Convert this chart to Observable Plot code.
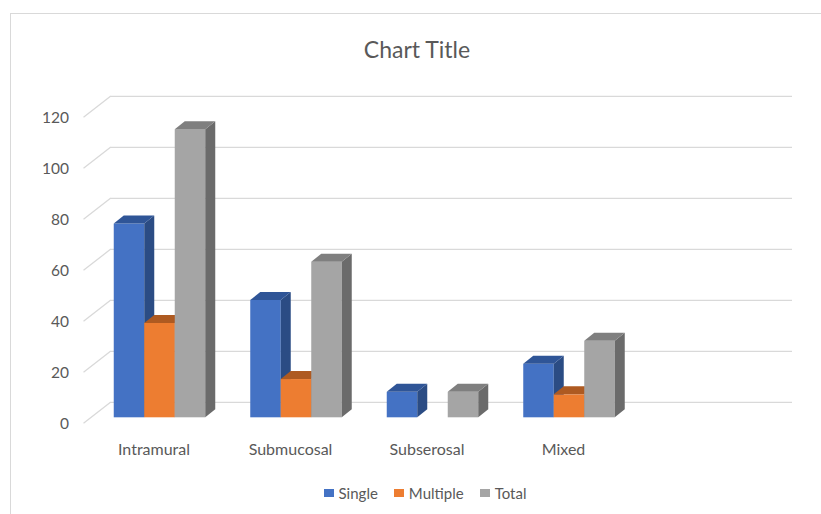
<!DOCTYPE html>
<html>
<head>
<meta charset="utf-8">
<script src="https://cdn.jsdelivr.net/npm/d3@7"></script>
<script src="https://cdn.jsdelivr.net/npm/@observablehq/plot@0.6"></script>
<style>
  html, body { margin: 0; padding: 0; background: #fff; overflow: hidden; }
  #wrap { position: relative; width: 821px; height: 514px; overflow: hidden; background: #fff; font-family: Lato, sans-serif; color: #595959; }
  #frame { position: absolute; left: 10px; top: 13px; width: 840px; height: 540px; border: 1px solid #d9d9d9; box-sizing: border-box; }
  #title { position: absolute; left: 0; top: 34px; width: 834px; text-align: center; font-size: 23px; line-height: 30px; }
  #chart { position: absolute; left: 0; top: 70px; }
  #legend { position: absolute; left: 0; top: 484px; width: 850px; display: flex; justify-content: center; font-size: 15px; line-height: 18px; }
  #legend .item { margin: 0 8px; white-space: nowrap; }
  #legend .sw { display: inline-block; width: 10px; height: 8.5px; vertical-align: 1.7px; margin-right: 5px; }
</style>
</head>
<body>
<div id="wrap">
  <div id="frame"></div>
  <div id="title">Chart Title</div>
  <div id="chart"></div>
  <div id="legend"></div>
</div>
<script>
// ---- data ----
const categories = ["Intramural", "Submucosal", "Subserosal", "Mixed"];
const series = ["Single", "Multiple", "Total"];
const single = [76, 46, 10, 21];
const multiple = [37, 15, 0, 9];
const total = [113, 61, 10, 30];
const yTicks = [0, 20, 40, 60, 80, 100, 120];

// ---- styles ----
const frontColors = ["#4472C4", "#ED7D31", "#A5A5A5"];
const topColors = ["#2F5597", "#AE5A21", "#7F7F7F"];
const sideColors = ["#2B4C84", "#A04F1C", "#6B6B6B"];

// ---- layout ----
const W = 821, H = 400;
const mL = 91.25, mR = 47.25, mT = 41.3, mB = 52.7;
const slots = 5;                          // Excel leaves an empty slot on the right
const pxX = (W - mL - mR) / slots;        // px per x unit
const pxY = (H - mT - mB) / 120;          // px per y unit
const gapU = 22.5 / pxX, barU = 30.5 / pxX;
const depthX = 10 / pxX, depthY = 8 / pxY; // 3D depth of bars
const wallX1 = (110 - mL) / pxX, wallX2 = (792 - mL) / pxX, sideX1 = (83 - mL) / pxX;
const backDy = 15.5 / pxY, frontDy = 5.5 / pxY;

const valuesBySeries = [single, multiple, total];
const bars = [];
categories.forEach((c, i) => {
  series.forEach((s, j) => {
    const v = valuesBySeries[j][i];
    const x1 = i + gapU + j * barU;
    bars.push({cat: c, series: s, j, value: v, x1, x2: x1 + barU, id: c + "|" + s});
  });
});
const visible = bars.filter(b => b.value > 0);

function topPts(b) {
  const v = b.value;
  return [
    {id: b.id, x: b.x1, y1: v, y2: v},
    {id: b.id, x: b.x1 + depthX, y1: v, y2: v + depthY},
    {id: b.id, x: b.x2, y1: v, y2: v + depthY},
    {id: b.id, x: b.x2 + depthX, y1: v + depthY, y2: v + depthY}
  ];
}
function sidePts(b) {
  return [
    {id: b.id, x: b.x2, y1: 0, y2: b.value},
    {id: b.id, x: b.x2 + depthX, y1: depthY, y2: b.value + depthY}
  ];
}

const barMarks = [];
series.forEach((s, j) => {
  const sb = visible.filter(b => b.j === j);
  barMarks.push(Plot.rect(sb, {x1: "x1", x2: "x2", y1: 0, y2: "value", fill: frontColors[j]}));
  barMarks.push(Plot.areaY(sb.flatMap(sidePts), {x: "x", y1: "y1", y2: "y2", z: "id", fill: sideColors[j], curve: "linear"}));
  barMarks.push(Plot.areaY(sb.flatMap(topPts), {x: "x", y1: "y1", y2: "y2", z: "id", fill: topColors[j], curve: "linear"}));
});

const chart = Plot.plot({
  width: W,
  height: H,
  marginLeft: mL,
  marginRight: mR,
  marginTop: mT,
  marginBottom: mB,
  x: {domain: [0, slots]},
  y: {domain: [0, 120]},
  style: {fontFamily: "Lato, sans-serif", fontSize: "15px", color: "#595959", background: "transparent", overflow: "visible"},
  marks: [
    Plot.ruleY(yTicks, {y: d => d + backDy, x1: wallX1, x2: wallX2, stroke: "#d9d9d9", strokeWidth: 1.3}),
    Plot.link(yTicks, {x1: sideX1, x2: wallX1, y1: d => d - frontDy, y2: d => d + backDy, stroke: "#d9d9d9", strokeWidth: 1.3}),
    ...barMarks,
    Plot.axisY(yTicks, {tickSize: 0, tickPadding: 22.75, dy: 6, label: null, tickFormat: d => String(d), fill: "#595959", fontSize: 15.5}),
    Plot.axisX(categories.map((c, i) => i + 0.5), {tickSize: 0, tickPadding: 26, dx: -6, label: null, fontSize: 16,
      tickFormat: d => categories[Math.round(d - 0.5)], fill: "#595959"})
  ]
});
document.getElementById("chart").appendChild(chart);

// ---- legend ----
const legend = document.getElementById("legend");
series.forEach((s, j) => {
  const item = document.createElement("span");
  item.className = "item";
  const sw = document.createElement("span");
  sw.className = "sw";
  sw.style.background = frontColors[j];
  item.appendChild(sw);
  item.appendChild(document.createTextNode(s));
  legend.appendChild(item);
});
</script>
</body>
</html>
